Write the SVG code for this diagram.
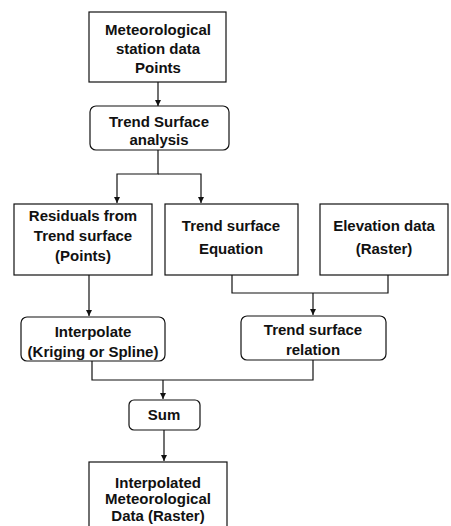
<svg xmlns="http://www.w3.org/2000/svg" width="451" height="526" viewBox="0 0 451 526">
<style>
.box{fill:#fff;stroke:#111;stroke-width:1.2}
.t{font-family:"Liberation Sans",Arial,sans-serif;font-size:15px;font-weight:bold;fill:#111;text-anchor:middle}
.c{fill:none;stroke:#111;stroke-width:1.2}
</style>
<defs>
<marker id="ah" viewBox="0 0 8 8" refX="8" refY="4" markerWidth="6" markerHeight="6" orient="auto" markerUnits="userSpaceOnUse">
<path d="M0,0 L8,4 L0,8 z" fill="#111"/>
</marker>
</defs>
<rect width="451" height="526" fill="#fff"/>
<g id="connectors">
<path class="c" d="M158,82 V106" marker-end="url(#ah)"/>
<path class="c" d="M158,150 V174 H117 V203" marker-end="url(#ah)"/>
<path class="c" d="M158,174 H201 V203" marker-end="url(#ah)"/>
<path class="c" d="M89,275 V316" marker-end="url(#ah)"/>
<path class="c" d="M232,275 V293 H388 V275"/>
<path class="c" d="M313,293 V315" marker-end="url(#ah)"/>
<path class="c" d="M92,361 V380 H313 V360"/>
<path class="c" d="M163,380 V399" marker-end="url(#ah)"/>
<path class="c" d="M164,430 V461" marker-end="url(#ah)"/>
</g>
<g id="n1"><rect class="box" x="89" y="12" width="137" height="70"/>
<text class="t" x="158" y="35">Meteorological</text><text class="t" x="158" y="54">station data</text><text class="t" x="158" y="73">Points</text></g>
<g id="n2"><rect class="box" x="90" y="106" width="139" height="44" rx="6"/>
<text class="t" x="159" y="127">Trend Surface</text><text class="t" x="159" y="145">analysis</text></g>
<g id="n3"><rect class="box" x="14" y="204" width="138" height="71"/>
<text class="t" x="83" y="221">Residuals from</text><text class="t" x="83" y="241">Trend surface</text><text class="t" x="83" y="261">(Points)</text></g>
<g id="n4"><rect class="box" x="165" y="204" width="133" height="71"/>
<text class="t" x="231" y="231">Trend surface</text><text class="t" x="231" y="254">Equation</text></g>
<g id="n5"><rect class="box" x="320" y="204" width="128" height="71"/>
<text class="t" x="384" y="231">Elevation data</text><text class="t" x="384" y="254">(Raster)</text></g>
<g id="n6"><rect class="box" x="21" y="317" width="144" height="44" rx="6"/>
<text class="t" x="93" y="337">Interpolate</text><text class="t" x="93" y="357">(Kriging or Spline)</text></g>
<g id="n7"><rect class="box" x="241" y="316" width="145" height="44" rx="6"/>
<text class="t" x="313" y="335">Trend surface</text><text class="t" x="313" y="355">relation</text></g>
<g id="n8"><rect class="box" x="129" y="400" width="71" height="30" rx="5"/>
<text class="t" x="164" y="420">Sum</text></g>
<g id="n9"><rect class="box" x="89" y="462" width="138" height="70"/>
<text class="t" x="158" y="488">Interpolated</text><text class="t" x="158" y="504">Meteorological</text><text class="t" x="158" y="521">Data (Raster)</text></g>
</svg>
